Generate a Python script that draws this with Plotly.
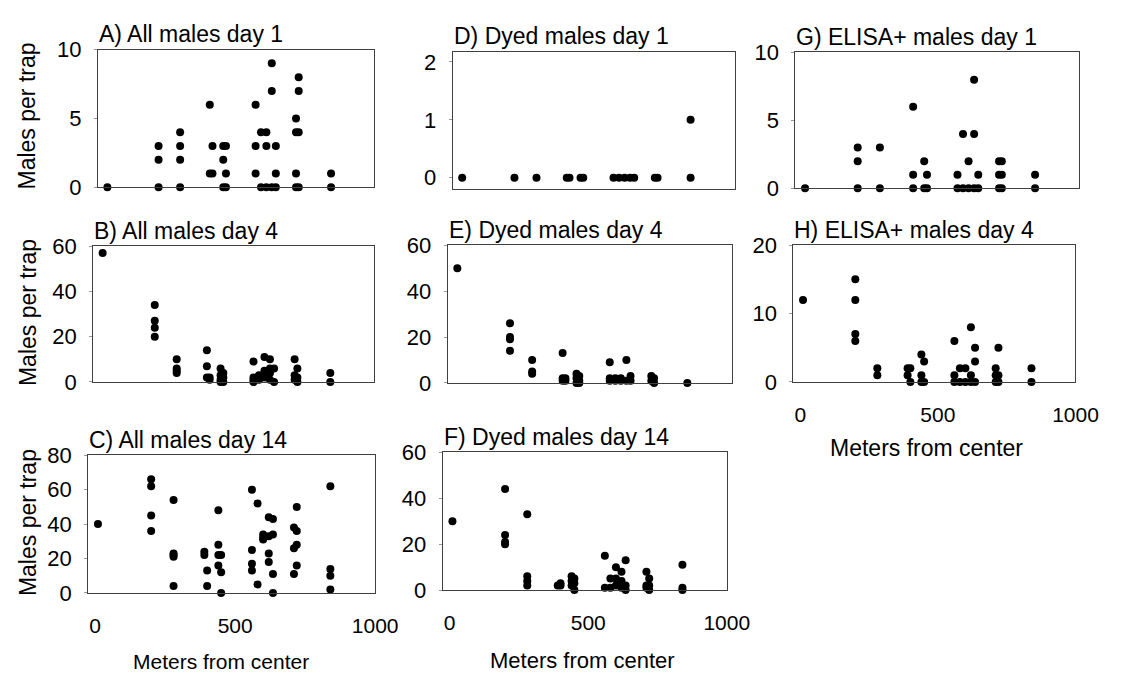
import plotly.graph_objects as go

# ---------------- data (distance from center in m, males per trap) ----------------
A_dist = [10, 200, 200, 200, 280, 280, 280, 280, 390, 390, 400, 400, 440, 440, 440,
          450, 450, 450, 560, 560, 560, 580, 580, 600, 600, 600, 620, 620, 620,
          635, 635, 635, 710, 710, 710, 710, 720, 720, 720, 720, 840, 840]
A_males = [0, 3, 2, 0, 4, 3, 2, 0, 6, 1, 1, 3, 3, 2, 0,
           3, 1, 0, 6, 3, 1, 4, 0, 4, 3, 0, 9, 7, 0,
           3, 1, 0, 5, 4, 1, 0, 8, 7, 4, 0, 1, 0]

B_dist = [10, 200, 200, 200, 200, 280, 280, 280, 280, 390, 390, 390, 400, 400,
          440, 440, 440, 440, 450, 450, 450, 560, 560, 560, 560, 580, 580,
          600, 600, 600, 620, 620, 620, 620, 635, 635, 710, 710, 710, 720, 720, 720, 840, 840]
B_males = [57, 34, 27, 24, 20, 10, 6, 5, 4, 14, 7, 2, 2, 1,
           6, 3, 1, 0, 4, 2, 0, 9, 2, 1, 0, 3, 1,
           11, 5, 2, 10, 6, 4, 1, 6, 0, 10, 3, 1, 6, 2, 0, 4, 0]

C_dist = [10, 200, 200, 200, 200, 280, 280, 280, 280, 280, 390, 390, 400, 400,
          440, 440, 440, 440, 450, 450, 450, 560, 560, 560, 560, 580, 580,
          600, 600, 600, 620, 620, 620, 620, 635, 635, 635, 635,
          710, 710, 710, 720, 720, 720, 720, 840, 840, 840, 840]
C_males = [40, 66, 62, 45, 36, 54, 23, 22, 21, 4, 24, 22, 13, 4,
           48, 28, 22, 16, 22, 12, 0, 60, 25, 17, 13, 52, 5,
           34, 32, 31, 44, 33, 23, 18, 43, 34, 11, 0,
           38, 26, 11, 50, 36, 28, 16, 62, 14, 10, 2]

D_dist = [10, 200, 280, 390, 400, 440, 450, 560, 580, 600, 620, 635, 710, 720, 840, 840]
D_males = [0, 0, 0, 0, 0, 0, 0, 0, 0, 0, 0, 0, 0, 0, 1, 0]

E_dist = [10, 200, 200, 200, 200, 280, 280, 280, 390, 390, 390, 400, 400,
          440, 440, 440, 450, 450, 450, 560, 560, 560, 580, 580, 600, 600,
          620, 620, 635, 635, 710, 710, 720, 720, 840]
E_males = [50, 26, 20, 19, 14, 10, 5, 4, 13, 2, 1, 2, 1,
           4, 2, 0, 3, 1, 0, 9, 2, 1, 2, 1, 2, 1,
           10, 1, 3, 1, 3, 1, 2, 0, 0]

F_dist = [10, 200, 200, 200, 200, 280, 280, 280, 280, 390, 400, 400,
          440, 440, 440, 450, 450, 450, 560, 560, 580, 580, 600, 600, 600,
          620, 620, 620, 620, 635, 635, 635, 710, 710, 710, 720, 720, 720, 840, 840, 840]
F_males = [30, 44, 24, 21, 20, 33, 6, 4, 2, 2, 3, 2,
           6, 4, 2, 5, 3, 0, 15, 1, 5, 1, 10, 5, 2,
           8, 4, 2, 1, 13, 2, 0, 8, 2, 1, 5, 2, 0, 11, 1, 0]

G_dist = [10, 200, 200, 200, 280, 280, 400, 400, 400, 440, 440, 450, 450, 560, 560,
          580, 580, 600, 600, 620, 620, 620, 635, 635, 710, 710, 710, 720, 720, 720, 840, 840]
G_males = [0, 3, 2, 0, 3, 0, 6, 1, 0, 2, 0, 1, 0, 1, 0,
           4, 0, 2, 0, 8, 4, 0, 1, 0, 2, 1, 0, 2, 1, 0, 1, 0]

H_dist = [10, 200, 200, 200, 200, 280, 280, 390, 390, 400, 400, 440, 440, 440, 450, 450,
          560, 560, 560, 580, 580, 600, 600, 620, 620, 620, 635, 635, 635,
          710, 710, 710, 720, 720, 720, 840, 840]
H_males = [12, 15, 12, 7, 6, 2, 1, 2, 1, 2, 0, 4, 1, 0, 3, 0,
           6, 1, 0, 2, 0, 2, 0, 8, 1, 0, 5, 3, 0,
           2, 1, 0, 5, 1, 0, 2, 0]

titles = ["A) All males day 1", "B) All males day 4", "C) All males day 14",
          "D) Dyed males day 1", "E) Dyed males day 4", "F) Dyed males day 14",
          "G) ELISA+ males day 1", "H) ELISA+ males day 4"]
y_ticks = [[0, 5, 10], [0, 20, 40, 60], [0, 20, 40, 60, 80],
           [0, 1, 2], [0, 20, 40, 60], [0, 20, 40, 60],
           [0, 5, 10], [0, 10, 20]]
y_ranges = [[0, 10], [0, 60], [0, 80], [-0.2, 2.18], [0, 60], [0, 60], [0, 10], [0, 20]]
x_ticks = [0, 500, 1000]
x_title = "Meters from center"
y_title = "Males per trap"

series = [(A_dist, A_males), (B_dist, B_males), (C_dist, C_males),
          (D_dist, D_males), (E_dist, E_males), (F_dist, F_males),
          (G_dist, G_males), (H_dist, H_males)]

# ---------------- layout geometry (pixels) ----------------
W, H = 1122, 685
boxes = [(100, 382, 39, 182), (95, 382, 243, 384), (90, 383, 460, 603),
         (462, 750, 41, 184), (457, 747, 242, 385), (452, 742, 457, 600),
         (812, 1102, 42, 183), (810, 1098, 242, 384)]
show_x = [False, False, True, False, False, True, False, True]

FONT = "Liberation Sans, Arial, sans-serif"
LINE = "#404040"

fig = go.Figure()
layout = dict(width=W, height=H, margin=dict(l=0, r=0, t=0, b=0), autosize=False,
              paper_bgcolor="white", plot_bgcolor="white", showlegend=False,
              font=dict(family=FONT, color="black", size=20))
annotations = []

for i, ((xs, ys), (l, r, t, b)) in enumerate(zip(series, boxes)):
    n = "" if i == 0 else str(i + 1)
    fig.add_trace(go.Scatter(x=xs, y=ys, mode="markers", xaxis="x" + n, yaxis="y" + n,
                             marker=dict(color="black", size=8), cliponaxis=False,
                             hoverinfo="x+y"))
    layout["xaxis" + n] = dict(domain=[l / W, r / W], range=[-25, 1000], anchor="y" + n,
                               showgrid=False, zeroline=False, showline=True, mirror=True,
                               linecolor=LINE, linewidth=1, tickvals=x_ticks,
                               showticklabels=show_x[i], ticks="", ticklabelstandoff=14,
                               tickfont=dict(size=21))
    layout["yaxis" + n] = dict(domain=[1 - b / H, 1 - t / H], range=y_ranges[i], anchor="x" + n,
                               showgrid=False, zeroline=False, showline=True, mirror=True,
                               linecolor=LINE, linewidth=1, tickvals=y_ticks[i],
                               ticks="outside", ticklen=3, tickcolor="#999999",
                               ticklabelstandoff=8, tickfont=dict(size=22))
    annotations.append(dict(text=titles[i], x=(l - 1) / W, y=1 - (t - 16) / H,
                            xref="paper", yref="paper", xanchor="left", yanchor="middle",
                            showarrow=False, font=dict(size=23)))

# x-axis titles
for cx, cy, sz in [(226, 674, 21), (595, 673, 22), (946, 453, 23)]:
    annotations.append(dict(text=x_title, x=cx / W, y=1 - cy / H, xref="paper", yref="paper",
                            xanchor="center", yanchor="middle", showarrow=False,
                            font=dict(size=sz)))
# y-axis titles
for cy in [108, 312, 530]:
    annotations.append(dict(text=y_title, x=28 / W, y=1 - cy / H, xref="paper", yref="paper",
                            xanchor="center", yanchor="middle", showarrow=False, textangle=-90,
                            font=dict(size=23)))

layout["annotations"] = annotations
fig.update_layout(**layout)
fig.write_html("out.html")
